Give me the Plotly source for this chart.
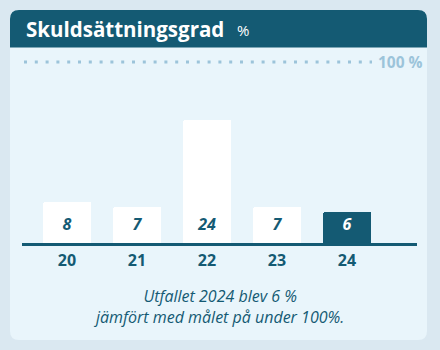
import plotly.graph_objects as go

# Debt ratio per year (percent)
years = ["20", "21", "22", "23", "24"]
values = [8, 7, 24, 7, 6]
bar_colors = ["#ffffff", "#ffffff", "#ffffff", "#ffffff", "#145a73"]
label_colors = ["#145a73", "#145a73", "#145a73", "#145a73", "#ffffff"]

title = "Skuldsättningsgrad"
unit = "%"
target_label = "100 %"
caption_lines = ["Utfallet 2024 blev 6 %", "jämfört med målet på under 100%."]

W, H = 440, 350
ML, MR, MT, MB = 22, 23, 62, 107
PW, PH = W - ML - MR, H - MT - MB

DARK = "#145a73"
PAGE = "#dae8f1"
CARD = "#e9f5fb"
LIGHT = "#9cc4da"


def px(x):
    return (x - ML) / PW


def py(y):
    return (H - MB - y) / PH


def rounded_rect(x0, y0, x1, y1, r, top_only=False):
    rx, ry = r / PW, r / PH
    X0, X1, Y0, Y1 = px(x0), px(x1), py(y0), py(y1)
    if top_only:
        return (f"M{X0},{Y1} L{X0},{Y0 - ry} Q{X0},{Y0} {X0 + rx},{Y0} "
                f"L{X1 - rx},{Y0} Q{X1},{Y0} {X1},{Y0 - ry} L{X1},{Y1} Z")
    return (f"M{X0},{Y1 + ry} L{X0},{Y0 - ry} Q{X0},{Y0} {X0 + rx},{Y0} "
            f"L{X1 - rx},{Y0} Q{X1},{Y0} {X1},{Y0 - ry} L{X1},{Y1 + ry} "
            f"Q{X1},{Y1} {X1 - rx},{Y1} L{X0 + rx},{Y1} Q{X0},{Y1} {X0},{Y1 + ry} Z")


fig = go.Figure()

fig.add_trace(go.Bar(
    x=years, y=values,
    marker=dict(color=bar_colors, line=dict(width=0), cornerradius=2),
    width=0.69,
    hoverinfo="skip",
))

# value labels near the base of each bar
fig.add_trace(go.Scatter(
    x=years, y=[3.4] * len(values),
    mode="text",
    text=[str(v) for v in values],
    textfont=dict(family="Open Sans", size=16, color=label_colors,
                  weight="bold", style="italic"),
    hoverinfo="skip",
))

shapes = [
    dict(type="path", xref="paper", yref="paper", layer="below",
         path=rounded_rect(10, 10, 427, 340, 9), fillcolor=CARD, line=dict(width=0)),
    dict(type="path", xref="paper", yref="paper", layer="below",
         path=rounded_rect(10, 10, 427, 47.5, 9, top_only=True), fillcolor=DARK, line=dict(width=0)),
    dict(type="line", xref="paper", yref="paper", layer="below",
         x0=px(24), x1=px(372), y0=1, y1=1,
         line=dict(color=LIGHT, width=3, dash="3px,7.8px")),
]

annotations = [
    dict(xref="paper", yref="paper", x=px(24), y=py(29), xanchor="left", yanchor="middle",
         text=f"<b>{title}</b>", showarrow=False,
         font=dict(family="Open Sans", size=20.5, color="#ffffff")),
    dict(xref="paper", yref="paper", x=px(235), y=py(30), xanchor="left", yanchor="middle",
         text=unit, showarrow=False,
         font=dict(family="Open Sans", size=15, color="#ffffff")),
    dict(xref="paper", yref="paper", x=px(376), y=1, xanchor="left", yanchor="middle",
         text=f"<b>{target_label}</b>", showarrow=False,
         font=dict(family="Open Sans", size=15.5, color=LIGHT)),
    dict(xref="paper", yref="paper", x=px(218), y=py(306.5), xanchor="center", yanchor="middle",
         text="<i>" + "<br>".join(caption_lines) + "</i>", showarrow=False, align="center",
         font=dict(family="Open Sans", size=16, color=DARK)),
]

fig.update_layout(
    width=W, height=H,
    margin=dict(l=ML, r=MR, t=MT, b=MB, pad=0),
    paper_bgcolor=PAGE,
    plot_bgcolor="rgba(0,0,0,0)",
    showlegend=False,
    shapes=shapes,
    annotations=annotations,
    bargap=0,
)

fig.update_xaxes(
    type="category",
    range=[-0.643, 5.0],
    showgrid=False, zeroline=False,
    showline=True, linecolor=DARK, linewidth=3,
    ticks="outside", ticklen=1, tickcolor="rgba(0,0,0,0)",
    tickfont=dict(family="Open Sans", size=16, color=DARK, weight="bold"),
    fixedrange=True,
)
fig.update_yaxes(
    range=[0, 35.2],
    visible=False,
    fixedrange=True,
)

fig.write_html("out.html", config={"displayModeBar": False})
